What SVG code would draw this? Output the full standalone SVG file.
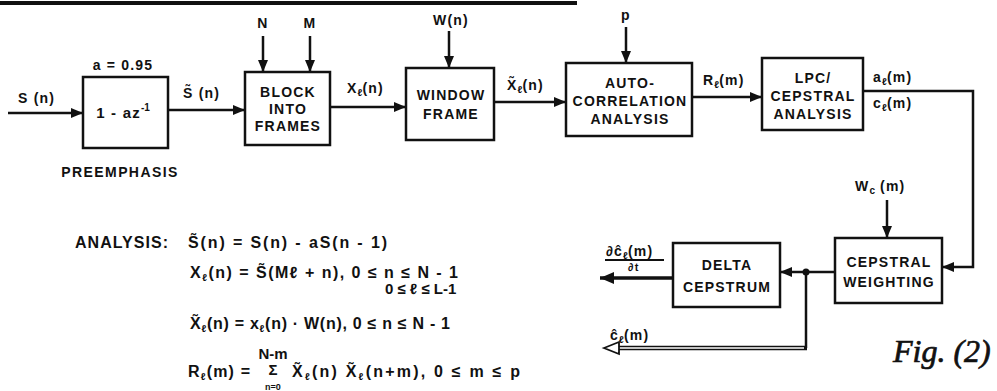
<svg xmlns="http://www.w3.org/2000/svg" width="997" height="391" viewBox="0 0 997 391">
<style>
.box{fill:#fff;stroke:#111;stroke-width:2.5}
.ln{fill:none;stroke:#111;stroke-width:2.5}
.t{font-family:"Liberation Sans",Arial,sans-serif;font-weight:bold;font-size:14px;fill:#111;letter-spacing:1.2px}
.e{font-family:"Liberation Sans",Arial,sans-serif;font-weight:bold;font-size:16px;fill:#111}
.c{text-anchor:middle}
.s{font-size:10px;letter-spacing:0}
.fig{font-family:"Liberation Serif","Times New Roman",serif;font-style:italic;font-size:32px;fill:#111;stroke:#111;stroke-width:0.7}
</style>
<defs>
<marker id="ah" viewBox="0 0 12 10" refX="12" refY="5" markerWidth="12" markerHeight="10" markerUnits="userSpaceOnUse" orient="auto">
<path d="M0,0 L12,5 L0,10 z" fill="#111"/>
</marker>
<marker id="ahb" viewBox="0 0 14 12" refX="14" refY="6" markerWidth="14" markerHeight="12" markerUnits="userSpaceOnUse" orient="auto">
<path d="M0,0 L14,6 L0,12 z" fill="#111"/>
</marker>
</defs>
<rect width="997" height="391" fill="#fff"/>
<line x1="0" y1="3" x2="577" y2="3" stroke="#111" stroke-width="4"/>

<g id="connectors">
<line class="ln" x1="8" y1="113" x2="83" y2="113" marker-end="url(#ah)"/>
<line class="ln" x1="168" y1="110" x2="245" y2="110" marker-end="url(#ah)"/>
<line class="ln" x1="263" y1="36" x2="263" y2="72" marker-end="url(#ah)"/>
<line class="ln" x1="310" y1="36" x2="310" y2="72" marker-end="url(#ah)"/>
<line class="ln" x1="330" y1="107" x2="406" y2="107" marker-end="url(#ah)"/>
<line class="ln" x1="449" y1="31" x2="449" y2="68" marker-end="url(#ah)"/>
<line class="ln" x1="494" y1="102" x2="566" y2="102" marker-end="url(#ah)"/>
<line class="ln" x1="626" y1="27" x2="626" y2="63" marker-end="url(#ah)"/>
<line class="ln" x1="692" y1="97" x2="762" y2="97" marker-end="url(#ah)"/>
<path class="ln" d="M863,91 H973 V267 H942" marker-end="url(#ah)"/>
<line class="ln" x1="887" y1="200" x2="887" y2="238" marker-end="url(#ah)"/>
<line class="ln" x1="835" y1="272" x2="780" y2="272" marker-end="url(#ah)"/>
<circle cx="806" cy="272" r="3.5" fill="#111"/>
<path class="ln" d="M806,272 V348"/>
<line x1="807" y1="348" x2="617" y2="348" stroke="#111" stroke-width="4.5"/>
<line x1="804" y1="348" x2="617" y2="348" stroke="#fff" stroke-width="1.3"/>
<path d="M604,348 L619,342 L619,354 z" fill="#fff" stroke="#111" stroke-width="1.8"/>
<line x1="673" y1="278" x2="600" y2="278" stroke="#111" stroke-width="3.5" marker-end="url(#ahb)"/>
</g>

<g id="preemphasis">
<rect class="box" x="83" y="77" width="85" height="71"/>
<text class="t c" x="123" y="118" style="font-size:15px">1 - az<tspan class="s" dy="-7">-1</tspan></text>
</g>
<g id="block-into-frames">
<rect class="box" x="245" y="72" width="85" height="73"/>
<text class="t c" x="288" y="97">BLOCK</text>
<text class="t c" x="288" y="114">INTO</text>
<text class="t c" x="288" y="131">FRAMES</text>
</g>
<g id="window-frame">
<rect class="box" x="406" y="68" width="88" height="72"/>
<text class="t c" x="451" y="100">WINDOW</text>
<text class="t c" x="451" y="119">FRAME</text>
</g>
<g id="autocorrelation">
<rect class="box" x="566" y="63" width="126" height="73"/>
<text class="t c" x="630" y="88">AUTO-</text>
<text class="t c" x="630" y="106">CORRELATION</text>
<text class="t c" x="630" y="124">ANALYSIS</text>
</g>
<g id="lpc-cepstral">
<rect class="box" x="762" y="58" width="101" height="72"/>
<text class="t c" x="813" y="83">LPC/</text>
<text class="t c" x="813" y="101">CEPSTRAL</text>
<text class="t c" x="813" y="119">ANALYSIS</text>
</g>
<g id="cepstral-weighting">
<rect class="box" x="835" y="238" width="107" height="65"/>
<text class="t c" x="889" y="267">CEPSTRAL</text>
<text class="t c" x="889" y="287">WEIGHTING</text>
</g>
<g id="delta-cepstrum">
<rect class="box" x="673" y="243" width="107" height="64"/>
<text class="t c" x="727" y="270">DELTA</text>
<text class="t c" x="727" y="292">CEPSTRUM</text>
</g>

<g id="labels">
<text class="t" x="18" y="103">S (n)</text>
<text class="t c" x="123" y="70">a = 0.95</text>
<text class="t c" x="120" y="177" style="letter-spacing:1.4px">PREEMPHASIS</text>
<text class="t" x="183" y="98">S̃ (n)</text>
<text class="t c" x="263" y="28">N</text>
<text class="t c" x="310" y="28">M</text>
<text class="t" x="347" y="93">X<tspan class="s" dy="3">ℓ</tspan><tspan dy="-3">(n)</tspan></text>
<text class="t c" x="451" y="25">W(n)</text>
<text class="t" x="507" y="90">X̃<tspan class="s" dy="3">ℓ</tspan><tspan dy="-3">(n)</tspan></text>
<text class="t c" x="626" y="20">p</text>
<text class="t" x="703" y="85">R<tspan class="s" dy="3">ℓ</tspan><tspan dy="-3">(m)</tspan></text>
<text class="t" x="873" y="82">a<tspan class="s" dy="3">ℓ</tspan><tspan dy="-3">(m)</tspan></text>
<text class="t" x="873" y="108">c<tspan class="s" dy="3">ℓ</tspan><tspan dy="-3">(m)</tspan></text>
<text class="t" x="855" y="191">W<tspan class="s" dy="3">c</tspan><tspan dy="-3"> (m)</tspan></text>
<text class="t" x="606" y="256">∂ĉ<tspan class="s" dy="3">ℓ</tspan><tspan dy="-3">(m)</tspan></text>
<line x1="605" y1="260" x2="664" y2="260" stroke="#111" stroke-width="2"/>
<text class="t" x="628" y="271" style="font-size:11px">∂t</text>
<text class="t" x="610" y="340">ĉ<tspan class="s" dy="3">ℓ</tspan><tspan dy="-3">(m)</tspan></text>
<text class="fig" x="893" y="362">Fig. (2)</text>
</g>

<g id="equations">
<text class="e" x="75" y="248" textLength="93" lengthAdjust="spacing">ANALYSIS:</text>
<text class="e" x="188" y="248" textLength="199" lengthAdjust="spacing">S̃(n) = S(n) - aS(n - 1)</text>
<text class="e" x="190" y="278" textLength="268" lengthAdjust="spacing">X<tspan class="s" dy="3">ℓ</tspan><tspan dy="-3">(n) = S̃(Mℓ + n), 0 ≤ n ≤ N - 1</tspan></text>
<text class="e" x="385" y="294" style="font-size:15px">0 ≤ ℓ ≤ L-1</text>
<text class="e" x="190" y="329" textLength="260" lengthAdjust="spacing">X̃<tspan class="s" dy="3">ℓ</tspan><tspan dy="-3">(n) = x</tspan><tspan class="s" dy="3">ℓ</tspan><tspan dy="-3">(n) · W(n), 0 ≤ n ≤ N - 1</tspan></text>
<text class="e" x="188" y="377" textLength="62" lengthAdjust="spacing">R<tspan class="s" dy="3">ℓ</tspan><tspan dy="-3">(m) =</tspan></text>
<text class="e c" x="273" y="359" style="font-size:15px">N-m</text>
<text class="e c" x="273" y="375" style="font-size:15px">Σ</text>
<text class="e c" x="273" y="390" style="font-size:9px">n=0</text>
<text class="e" x="292" y="377" textLength="228" lengthAdjust="spacing">X̃<tspan class="s" dy="3">ℓ</tspan><tspan dy="-3">(n) X̃</tspan><tspan class="s" dy="3">ℓ</tspan><tspan dy="-3">(n+m), 0 ≤ m ≤ p</tspan></text>
</g>
</svg>
